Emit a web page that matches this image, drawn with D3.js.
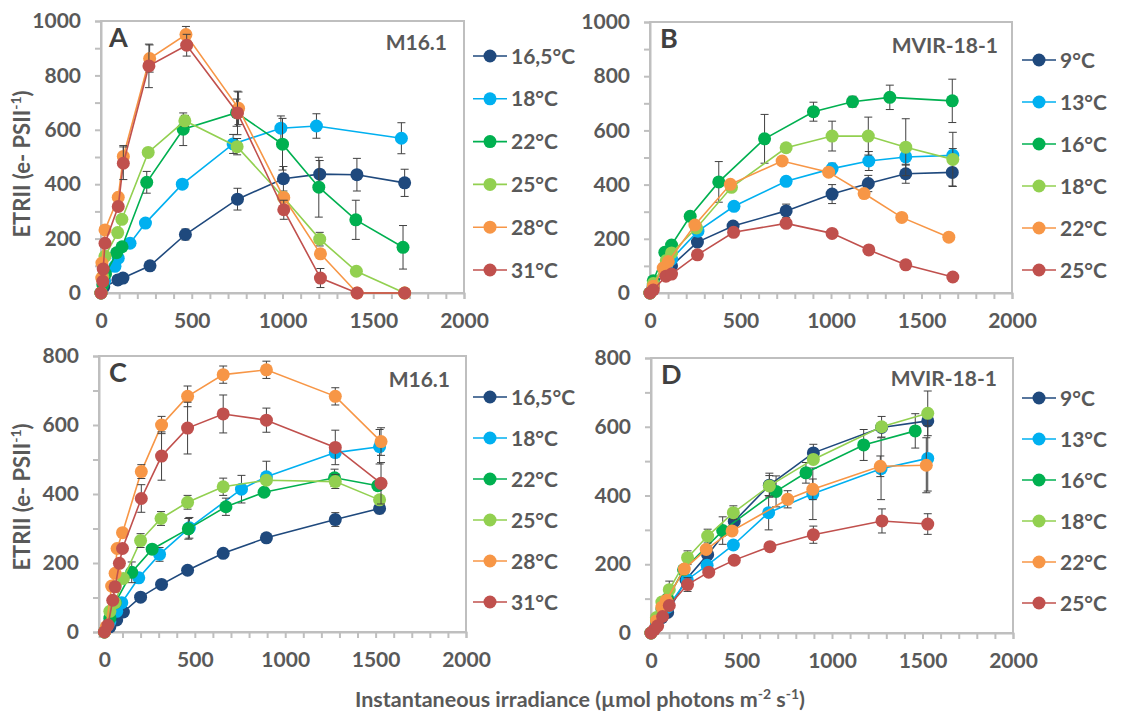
<!DOCTYPE html>
<html>
<head>
<meta charset="utf-8">
<script src="https://cdn.jsdelivr.net/npm/d3@7"></script>
<style>
body { margin: 0; background: #fff; }
svg text { font-family: Lato, "Open Sans", sans-serif; font-weight: 700; fill: #595959; }
</style>
</head>
<body>
<svg id="chart" width="1122" height="715"></svg>
<script>
// temperatures (legend labels)
var tempsM = ["16,5°C", "18°C", "22°C", "25°C", "28°C", "31°C"];
var tempsV = ["9°C", "13°C", "16°C", "18°C", "22°C", "25°C"];
var colors = ["#1f497d", "#00b0f0", "#00b050", "#92d050", "#f79646", "#c0504d"];

// each point: [irradiance, ETRII, error]
// panel A - M16.1
var A_165 = [[0,0,0],[15,22,0],[93,48,0],[121,55,0],[270,100,8],[465,215,20],[752,345,40],[1005,420,45],[1205,437,50],[1410,435,60],[1673,405,50]];
var A_18  = [[0,0,0],[20,45,0],[77,98,0],[95,128,0],[160,183,0],[245,257,0],[448,400,10],[728,548,35],[991,606,45],[1187,614,45],[1655,569,57]];
var A_22  = [[0,0,0],[10,30,0],[25,70,0],[86,148,0],[116,170,0],[252,407,40],[453,602,60],[747,663,50],[1000,547,95],[1200,389,110],[1404,269,72],[1664,168,80]];
var A_25  = [[0,0,0],[10,60,0],[22,135,0],[92,222,0],[115,271,0],[260,517,0],[462,633,20],[750,538,30],[1005,352,0],[1205,198,25],[1407,80,0],[1673,0,0]];
var A_28  = [[0,0,0],[4,55,0],[5,110,0],[22,232,0],[95,352,0],[123,502,40],[268,862,50],[468,950,30],[758,679,60],[1007,351,0],[1209,144,0],[1411,0,0],[1673,0,0]];
var A_31  = [[0,0,0],[10,43,0],[12,88,0],[22,183,0],[95,318,0],[123,477,60],[264,835,80],[472,911,40],[752,662,80],[1007,306,35],[1209,55,35],[1411,0,0],[1673,0,0]];

// panel B - MVIR-18-1
var B_9  = [[0,0,0],[18,25,0],[92,80,0],[119,100,0],[262,188,15],[459,247,15],[752,303,25],[1006,365,35],[1206,404,30],[1413,440,35],[1670,445,50]];
var B_13 = [[0,0,0],[18,30,0],[92,100,0],[119,125,0],[265,228,0],[464,320,0],[752,412,15],[1006,459,20],[1209,487,35],[1413,502,30],[1673,508,25]];
var B_16 = [[0,0,0],[18,45,0],[82,150,0],[119,177,0],[222,283,0],[380,410,75],[633,569,90],[903,669,35],[1119,706,20],[1325,722,45],[1670,709,80]];
var B_18 = [[0,0,0],[18,35,0],[90,120,0],[119,148,0],[257,240,0],[450,390,0],[752,536,0],[1006,579,55],[1206,579,70],[1413,538,105],[1673,493,100]];
var B_22 = [[0,0,0],[18,25,0],[73,92,0],[101,116,0],[248,251,0],[444,401,0],[730,487,0],[987,446,0],[1183,367,0],[1391,279,0],[1651,206,0]];
var B_25 = [[0,0,0],[18,11,0],[88,62,0],[119,70,0],[262,141,0],[462,224,0],[752,257,0],[1006,220,0],[1209,159,0],[1413,104,0],[1673,59,0]];

// panel C - M16.1
var C_165 = [[0,0,0],[30,15,0],[68,35,0],[105,58,0],[200,101,0],[316,138,0],[460,179,0],[657,228,0],[896,273,0],[1277,326,20],[1522,358,15]];
var C_18  = [[0,0,0],[30,30,0],[68,60,0],[96,85,0],[190,157,0],[305,225,20],[470,302,30],[758,414,40],[896,450,45],[1277,520,0],[1522,537,50]];
var C_22  = [[0,0,0],[30,40,0],[60,85,0],[151,173,30],[264,240,0],[464,299,30],[672,363,25],[883,405,0],[1273,447,25],[1512,424,0]];
var C_25  = [[0,0,0],[30,60,0],[59,85,0],[105,155,0],[200,265,20],[313,329,20],[460,376,20],[657,421,25],[896,440,0],[1277,436,20],[1522,383,0]];
var C_28  = [[0,0,0],[10,15,0],[40,133,0],[59,170,0],[70,242,0],[100,288,0],[204,465,20],[316,600,25],[460,683,30],[657,746,25],[896,760,25],[1277,683,25],[1530,552,40]];
var C_31  = [[0,0,0],[20,20,0],[46,92,0],[59,131,0],[83,199,0],[100,242,0],[204,387,40],[316,510,70],[460,591,75],[657,632,55],[896,614,35],[1277,535,50],[1530,431,60]];

// panel D - MVIR-18-1
var D_9  = [[0,0,0],[30,20,0],[60,45,0],[92,60,0],[193,155,0],[313,228,0],[460,325,0],[654,430,35],[897,524,25],[1274,598,0],[1529,617,0]];
var D_13 = [[0,0,0],[30,25,0],[60,55,0],[92,75,0],[200,155,0],[310,197,0],[455,256,0],[650,350,50],[894,405,75],[1271,478,90],[1529,508,95]];
var D_16 = [[0,0,0],[30,35,0],[60,70,0],[92,100,0],[180,184,0],[396,298,40],[691,412,45],[856,466,30],[1175,547,45],[1460,588,50]];
var D_18 = [[0,0,0],[30,45,0],[60,90,0],[101,126,25],[202,219,20],[313,282,20],[455,350,20],[654,428,30],[897,505,0],[1274,600,30],[1529,639,65]];
var D_22 = [[0,0,0],[30,35,0],[60,75,0],[85,95,0],[184,186,0],[305,243,0],[448,297,0],[755,389,25],[894,418,30],[1267,485,30],[1521,488,80]];
var D_25 = [[0,0,0],[18,10,0],[37,21,0],[64,48,0],[101,80,0],[202,141,20],[319,177,0],[460,212,0],[657,251,0],[897,286,25],[1276,326,35],[1529,317,30]];

var panels = [
    {letter: "A", strain: "M16.1", left: 101, top: 21, w: 363, h: 272, xmin: 0, ymax: 1000,
     sx: 447, sy: 50, lx: 473, ly: 56, lstep: 42.8, labels: tempsM,
     series: [A_165, A_18, A_22, A_25, A_28, A_31]},
    {letter: "B", strain: "MVIR-18-1", left: 650, top: 22, w: 362, h: 271, xmin: 0, ymax: 1000,
     sx: 998, sy: 53, lx: 1022, ly: 60, lstep: 42, labels: tempsV,
     series: [B_9, B_13, B_16, B_18, B_22, B_25]},
    {letter: "C", strain: "M16.1", left: 99, top: 356, w: 367, h: 276, xmin: -30, ymax: 800,
     sx: 450, sy: 387, lx: 473, ly: 397, lstep: 41, labels: tempsM,
     series: [C_165, C_18, C_22, C_25, C_28, C_31]},
    {letter: "D", strain: "MVIR-18-1", left: 651, top: 358, w: 362, h: 275, xmin: 0, ymax: 800,
     sx: 997, sy: 386, lx: 1022, ly: 398, lstep: 41, labels: tempsV,
     series: [D_9, D_13, D_16, D_18, D_22, D_25]}
];

var svg = d3.select("#chart");
var gridColor = "#bfbfbf";

panels.forEach(function (p) {
    var g = svg.append("g").attr("transform", "translate(" + p.left + "," + p.top + ")");

    var x = d3.scaleLinear().domain([p.xmin, 2000]).range([0, p.w]);
    var y = d3.scaleLinear().domain([0, p.ymax]).range([p.h, 0]);

    // plot box
    g.append("rect")
        .attr("width", p.w).attr("height", p.h)
        .attr("fill", "none").attr("stroke", gridColor).attr("stroke-width", 2);

    var xAxis = d3.axisBottom(x)
        .tickValues(d3.range(0, 2001, 100))
        .tickSize(6).tickPadding(14)
        .tickFormat(function (d) { return d % 500 === 0 ? d : ""; });
    var yAxis = d3.axisLeft(y)
        .tickValues(d3.range(0, p.ymax + 1, 100))
        .tickSize(6).tickPadding(14)
        .tickFormat(function (d) { return d % 200 === 0 ? d : ""; });

    var gx = g.append("g").attr("transform", "translate(0," + p.h + ")").call(xAxis);
    var gy = g.append("g").call(yAxis);
    [gx, gy].forEach(function (a) {
        a.select(".domain").attr("stroke", gridColor).attr("stroke-width", 2);
        a.selectAll(".tick line").attr("stroke", gridColor).attr("stroke-width", 2);
        a.selectAll(".tick text").style("font-size", "21px").attr("fill", "#595959");
    });

    // series
    p.series.forEach(function (s, i) {
        var line = d3.line().x(function (d) { return x(d[0]); }).y(function (d) { return y(d[1]); });
        var sg = g.append("g");
        sg.append("path").datum(s)
            .attr("d", line)
            .attr("fill", "none").attr("stroke", colors[i]).attr("stroke-width", 1.6);

        var eb = s.filter(function (d) { return d[2] > 0; });
        sg.selectAll(".eb").data(eb).enter().append("path")
            .attr("d", function (d) {
                var cx = x(d[0]), y1 = y(d[1] + d[2]), y2 = y(Math.max(0, d[1] - d[2]));
                return "M" + cx + "," + y1 + "V" + y2 +
                    "M" + (cx - 4) + "," + y1 + "H" + (cx + 4) +
                    "M" + (cx - 4) + "," + y2 + "H" + (cx + 4);
            })
            .attr("stroke", "#404040").attr("stroke-width", 1).attr("fill", "none");

        sg.selectAll("circle").data(s).enter().append("circle")
            .attr("cx", function (d) { return x(d[0]); })
            .attr("cy", function (d) { return y(d[1]); })
            .attr("r", 6.5)
            .attr("fill", colors[i]);
    });

    // panel letter and strain name
    svg.append("text")
        .attr("x", p.left + (p.letter === "A" ? 8 : 10)).attr("y", p.top + 26)
        .style("font-size", "27px").style("fill", "#404040")
        .text(p.letter);
    svg.append("text")
        .attr("x", p.sx).attr("y", p.sy)
        .attr("text-anchor", "end")
        .style("font-size", "21px")
        .text(p.strain);

    // legend
    var lg = svg.append("g");
    p.labels.forEach(function (lab, i) {
        var ly = p.ly + i * p.lstep;
        lg.append("line")
            .attr("x1", p.lx).attr("x2", p.lx + 34)
            .attr("y1", ly).attr("y2", ly)
            .attr("stroke", colors[i]).attr("stroke-width", 1.6);
        lg.append("circle")
            .attr("cx", p.lx + 17).attr("cy", ly).attr("r", 6.5)
            .attr("fill", colors[i]);
        lg.append("text")
            .attr("x", p.lx + 38).attr("y", ly + 7.5)
            .style("font-size", "21px")
            .text(lab);
    });
});

// y axis titles
[164, 497].forEach(function (cy) {
    var t = svg.append("text")
        .attr("transform", "translate(30," + cy + ") rotate(-90)")
        .attr("text-anchor", "middle")
        .style("font-size", "22px");
    t.append("tspan").text("ETRII (e- PSII");
    t.append("tspan").attr("dy", -9).style("font-size", "14px").text("-1");
    t.append("tspan").attr("dy", 9).text(")");
});

// x axis title
var xt = svg.append("text")
    .attr("x", 580).attr("y", 707)
    .attr("text-anchor", "middle")
    .style("font-size", "21.5px");
xt.append("tspan").text("Instantaneous irradiance (µmol photons m");
xt.append("tspan").attr("dy", -8).style("font-size", "14px").text("-2");
xt.append("tspan").attr("dy", 8).text(" s");
xt.append("tspan").attr("dy", -8).style("font-size", "14px").text("-1");
xt.append("tspan").attr("dy", 8).text(")");
</script>
</body>
</html>
